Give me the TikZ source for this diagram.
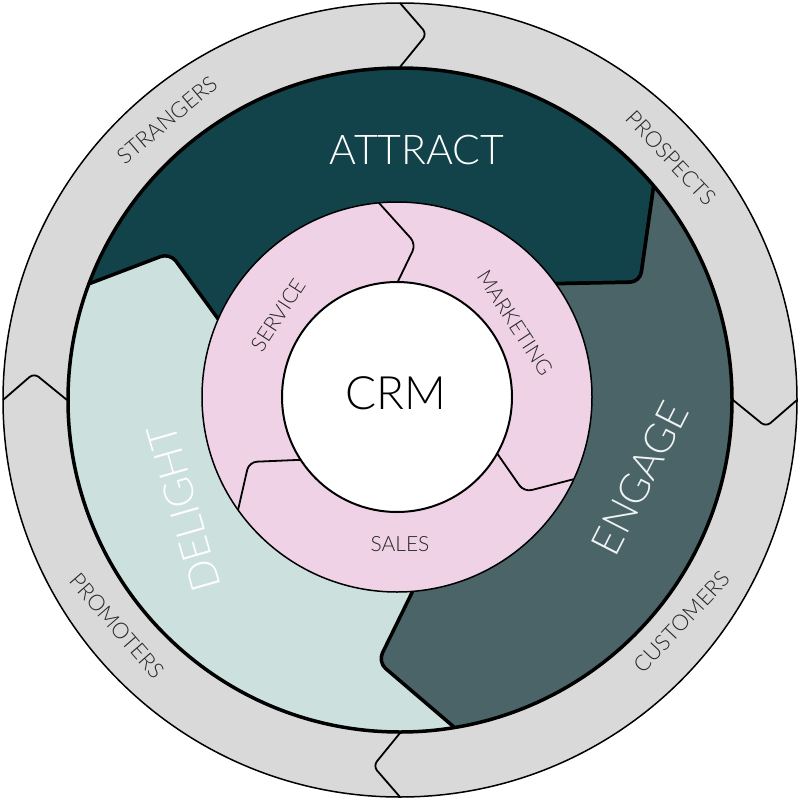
\documentclass[tikz,border=0pt]{standalone}
\usepackage{fontspec}
\IfFontExistsTF{Lato Light}{\setmainfont{Lato Light}}{\setmainfont{Lato}}
\usetikzlibrary{calc}

\definecolor{ringgrey}{RGB}{217,217,217}
\definecolor{attractcol}{RGB}{19,67,74}
\definecolor{engagecol}{RGB}{74,100,103}
\definecolor{delightcol}{RGB}{204,224,222}
\definecolor{crmpink}{RGB}{240,210,230}

\tikzset{
  ringlabel/.style={font=\fontsize{22}{22}\selectfont, text=black!85},
  stagelabel/.style={font=\fontsize{41}{41}\selectfont},
  crmlabel/.style={font=\fontsize{21}{21}\selectfont, text=black!85},
  joint/.style={line width=1.8pt, rounded corners=6pt},
  border/.style={line width=3.5pt, rounded corners=10pt},
  seam/.style={line width=1.8pt, rounded corners=8pt}
}

\begin{document}
\begin{tikzpicture}[x=1pt,y=-1pt]
\useasboundingbox (0,0) rectangle (800,800);
% Outer rings are centred at (o), the CRM rings at (p)
\coordinate (o) at (400,400);
\coordinate (p) at (397,397);
% Grey ring of the four audiences
\fill[ringgrey] (o) circle (397pt);
\draw[line width=1.5pt] (o) circle (397pt);
% Chevron joints between the grey segments (tips point clockwise)
\draw[joint] ($(o)+(90:333pt)$) -- ($(o)+(85.8:367pt)$) -- ($(o)+(90:397pt)$);
\draw[joint] ($(o)+(0:333pt)$) -- ($(o)+(-4.2:367pt)$) -- ($(o)+(0:397pt)$);
\draw[joint] ($(o)+(-90:333pt)$) -- ($(o)+(-94.2:367pt)$) -- ($(o)+(-90:397pt)$);
\draw[joint] ($(o)+(180:333pt)$) -- ($(o)+(175.8:367pt)$) -- ($(o)+(180:397pt)$);
% The three stages, clipped to the big disc
\begin{scope}
\clip (o) circle (332pt);
\fill[delightcol] (o) circle (332pt);
\filldraw[fill=attractcol, draw=black, border] (656,170) -- (640,282) -- (540,284) -- (p)
  -- (235,342) -- (170,253) -- (70,291) -- (0,291) -- (0,0) -- (800,0) -- cycle;
\filldraw[fill=engagecol, draw=black, border] (656,170) -- (640,282) -- (540,284) -- (p)
  -- (425,566) -- (378,662) -- (475,745) -- (800,800) -- (800,100) -- cycle;
\end{scope}
\draw[line width=3.5pt] (o) circle (332pt);
% Pink CRM ring and its seams
\fill[crmpink] (p) circle (195pt);
\begin{scope}
\clip (p) circle (195pt);
\draw[seam] (370,193) -- (416,244) -- (388,302);
\draw[seam] (485,436) -- (524,492) -- (590,475);
\draw[seam] (233,532) -- (249,462) -- (320,459);
\end{scope}
\draw[line width=1.5pt] (p) circle (195pt);
\filldraw[fill=white, draw=black, line width=2pt] (p) circle (115pt);
% Labels
\node[stagelabel, text=white] (attract) at (417,150) {ATTRACT};
\node[stagelabel, text=white!92!engagecol, rotate=63] (engage) at (640,478) {ENGAGE};
\node[stagelabel, text=white, rotate=106] (delight) at (184,508) {DELIGHT};
\node[font=\fontsize{46}{46}\selectfont] (crm) at (396,393) {CRM};
\node[crmlabel, rotate=57] (service) at (278,315) {SERVICE};
\node[crmlabel, rotate=-57] (marketing) at (515,323) {MARKETING};
\node[crmlabel] (sales) at (400,544) {SALES};
\node[ringlabel, rotate=40] (strangers) at (167,120) {STRANGERS};
\node[ringlabel, rotate=-47] (prospects) at (671,158) {PROSPECTS};
\node[ringlabel, rotate=47] (customers) at (682,622) {CUSTOMERS};
\node[ringlabel, rotate=-49] (promoters) at (117,626) {PROMOTERS};
\end{tikzpicture}
\end{document}
